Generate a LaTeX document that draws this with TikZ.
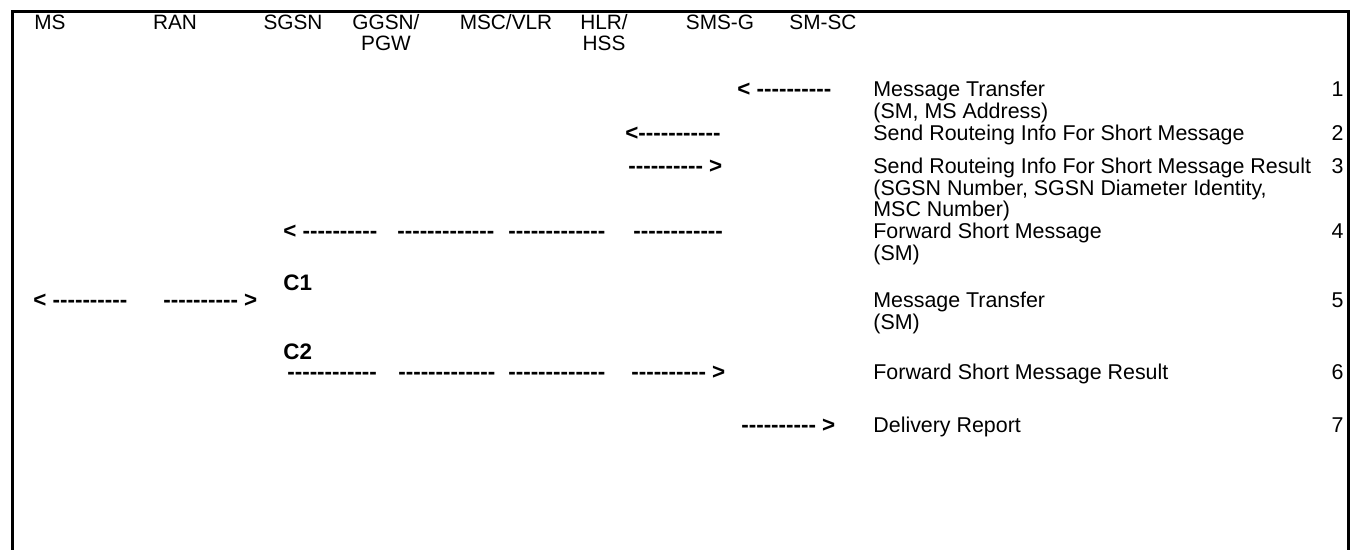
\documentclass[tikz,border=0pt]{standalone}
\usepackage{fontspec}
\setmainfont{Liberation Sans}[Ligatures=TeXOff]
\begin{document}
\begin{tikzpicture}[x=0.5pt,y=-0.5pt,
  lbl/.style={anchor=base west,inner sep=0pt,font=\fontsize{10.7}{12}\selectfont},
  hdr/.style={lbl,anchor=base,font=\fontsize{10.4}{12}\selectfont},
  dsh/.style={lbl,font=\fontsize{11.2}{12}\selectfont\bfseries},
  msgnum/.style={lbl,anchor=base east}]
\useasboundingbox (0,0) rectangle (1357,550);
\draw[line width=1.5pt] (12,550) -- (12,12) -- (1348,12) -- (1348,550);
\node[hdr] (ms) at (50,30) {MS}; \node[hdr] (ran) at (175,30) {RAN}; \node[hdr] (sgsn) at (293,30) {SGSN};
\node[hdr] (ggsn) at (386,30) {GGSN/}; \node[hdr] (pgw) at (386,51) {PGW};
\node[hdr] (msc) at (506,30) {MSC/VLR}; \node[hdr] (hlr) at (604,30) {HLR/}; \node[hdr] (hss) at (604,51) {HSS};
\node[hdr] (smsg) at (720,30) {SMS-G}; \node[hdr] (smsc) at (823,30) {SM-SC};
\node[dsh] (a1) at (737,97) {< ----------};
\node[lbl] (m1) at (873,97) {Message Transfer}; \node[lbl] (m1b) at (873,119) {(SM, MS Address)}; \node[msgnum] (n1) at (1344,97) {1};
\node[dsh] (a2) at (625,141) {<-----------};
\node[lbl] (m2) at (873,141) {Send Routeing Info For Short Message}; \node[msgnum] (n2) at (1344,141) {2};
\node[dsh] (a3) at (628,174) {---------- >};
\node[lbl] (m3) at (873,174) {Send Routeing Info For Short Message Result}; \node[msgnum] (n3) at (1344,174) {3};
\node[lbl] (m3b) at (873,196) {(SGSN Number, SGSN Diameter Identity,}; \node[lbl] (m3c) at (873,217) {MSC Number)};
\node[dsh] (a4a) at (283,239) {< ----------}; \node[dsh] (a4b) at (397,239) {-------------};
\node[dsh] (a4c) at (508,239) {-------------}; \node[dsh] (a4d) at (633,239) {------------};
\node[lbl] (m4) at (873,239) {Forward Short Message}; \node[lbl] (m4b) at (873,261) {(SM)}; \node[msgnum] (n4) at (1344,239) {4};
\node[dsh] (c1) at (283,291) {C1};
\node[dsh] (a5a) at (33,308) {< ----------}; \node[dsh] (a5b) at (163,308) {---------- >};
\node[lbl] (m5) at (873,308) {Message Transfer}; \node[lbl] (m5b) at (873,330) {(SM)}; \node[msgnum] (n5) at (1344,308) {5};
\node[dsh] (c2) at (283,360) {C2};
\node[dsh] (a6a) at (287,380) {------------}; \node[dsh] (a6b) at (398,380) {-------------};
\node[dsh] (a6c) at (508,380) {-------------}; \node[dsh] (a6d) at (631,380) {---------- >};
\node[lbl] (m6) at (873,380) {Forward Short Message Result}; \node[msgnum] (n6) at (1344,380) {6};
\node[dsh] (a7) at (741,433) {---------- >};
\node[lbl] (m7) at (873,433) {Delivery Report}; \node[msgnum] (n7) at (1344,433) {7};
\end{tikzpicture}
\end{document}
